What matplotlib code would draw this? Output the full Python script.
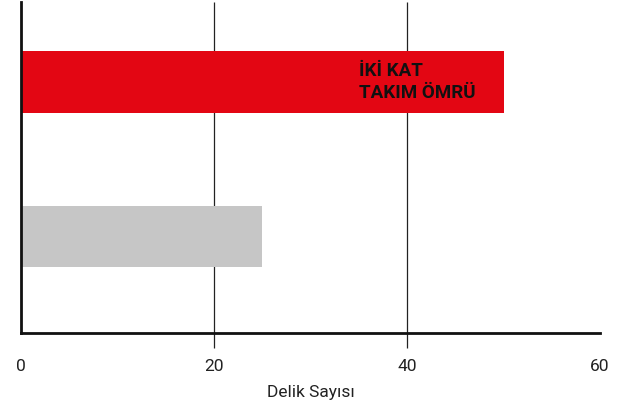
import matplotlib
matplotlib.use("Agg")
import matplotlib.pyplot as plt

categories = ["Standard", "İKİ KAT TAKIM ÖMRÜ"]
values = [25, 50]
colors = ["#c6c6c6", "#e30613"]
xticks = [0, 20, 40, 60]
gridticks = [20, 40]
xlabel = "Delik Sayısı"
annotation = "İKİ KAT\nTAKIM ÖMRÜ"

plt.rcParams["font.family"] = ["Roboto", "DejaVu Sans"]

fig = plt.figure(figsize=(6.2, 4.12), dpi=100)
ax = fig.add_axes([21/620, 1 - 333/412, 579/620, 331/412])

ypos = list(range(len(categories)))
ax.barh(ypos, values, height=0.4, color=colors, zorder=2)
ax.set_xlim(0, 60)
ax.set_ylim(-0.625, 1.518)
ax.set_yticks([])
ax.set_xticks(xticks)
ax.set_xticklabels([str(t) for t in xticks], fontsize=12.5, color="#222222")
ax.tick_params(axis="x", which="major", length=0, pad=18.5)
ax.vlines(gridticks, -15/331, 1, transform=ax.get_xaxis_transform(),
          colors="#222222", linewidth=0.9, zorder=1, clip_on=False)
for s in ["top", "right"]:
    ax.spines[s].set_visible(False)
for s in ["left", "bottom"]:
    ax.spines[s].set_linewidth(2)
    ax.spines[s].set_color("#111111")
    ax.spines[s].set_zorder(3)

ax.set_xlabel(xlabel, fontsize=12.5, color="#222222", labelpad=8.5)
ax.text(35, 1, annotation, fontsize=13.5, fontweight="bold", color="#111111",
        ha="left", va="center", linespacing=1.25, zorder=4)

fig.savefig("out.png", dpi=100)
